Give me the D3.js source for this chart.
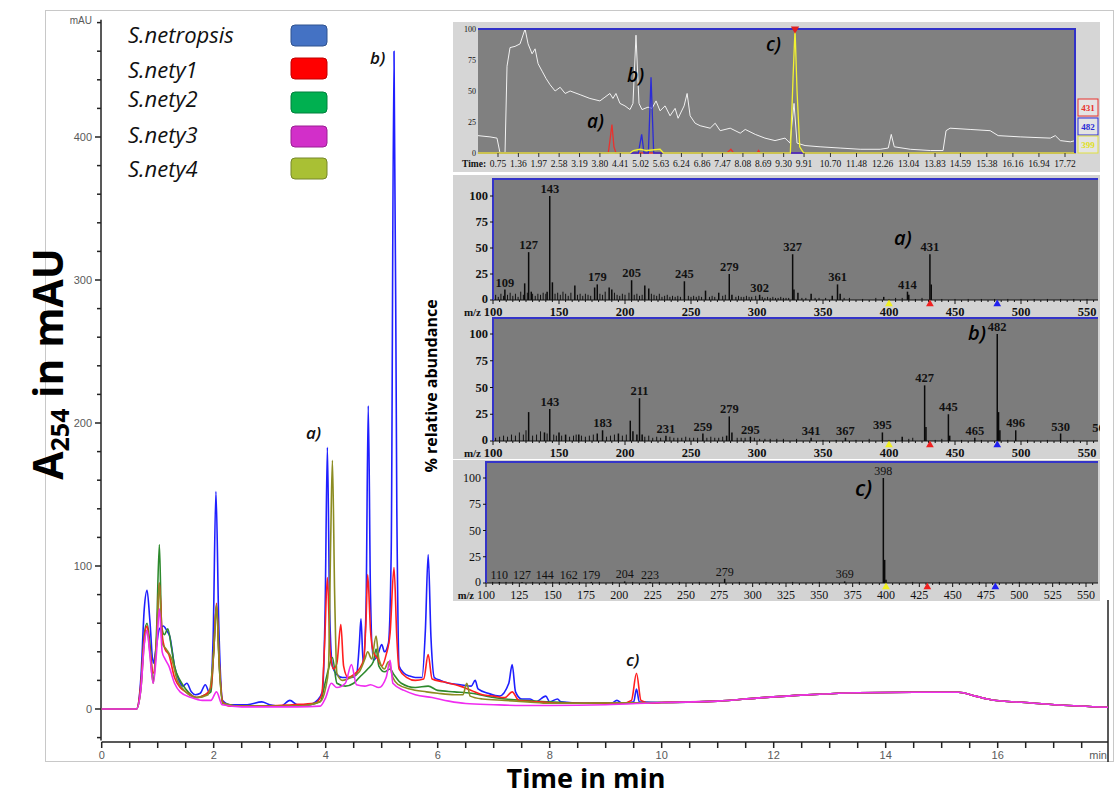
<!DOCTYPE html>
<html>
<head>
<meta charset="utf-8">
<script src="https://d3js.org/d3.v7.min.js"></script>
<style>
  body { margin: 0; background: #fff; }
  svg { display: block; }
</style>
</head>
<body>
<div id="container"></div>
<script>
// ---------------- DATA ----------------
let seriesNames = ["S.netropsis", "S.nety1", "S.nety2", "S.nety3", "S.nety4"];
let legendColors = ["#4472c4", "#ff0000", "#00b050", "#d22fc9", "#a9c034"];
let legendStrokes = ["#2f528f", "#c00000", "#00803c", "#9a1f93", "#76872a"];
let lineColors = ["#1f1fff", "#ff1f1f", "#2d8a2d", "#f02cf0", "#8c8c22"];

// common slow baseline drift after ~10 min (time, mAU)
let tailPts = [[10, 4.5], [11, 5.5], [11.7, 7.6], [12.4, 9.5], [12.9, 10.5], [13.5, 11.4], [14.5, 11.7],
  [15.3, 11.7], [15.6, 9], [15.9, 6.3], [16.5, 4.5], [17.1, 2.8], [17.97, 1.2]];

let netropsis = [[0, 0], [0.62, 0], [0.7, 22], [0.76, 70], [0.81, 83], [0.86, 62], [0.92, 32], [0.97, 42], [1.03, 56],
  [1.1, 58], [1.16, 55], [1.22, 50], [1.3, 30], [1.38, 20], [1.45, 16], [1.52, 18], [1.6, 12], [1.67, 10], [1.76, 11],
  [1.85, 17], [1.93, 11], [1.99, 50], [2.04, 152], [2.09, 60], [2.16, 6], [2.3, 3], [2.6, 3], [2.86, 5], [3.0, 3],
  [3.2, 2], [3.36, 6], [3.5, 3], [3.7, 3], [3.85, 6], [3.94, 12], [3.99, 70], [4.03, 183], [4.07, 70], [4.12, 30],
  [4.2, 24], [4.3, 22], [4.45, 22], [4.55, 24], [4.6, 45], [4.63, 63], [4.67, 32], [4.72, 70], [4.76, 212], [4.8, 80],
  [4.85, 34], [4.93, 38], [5.0, 45], [5.05, 40], [5.12, 46], [5.17, 110], [5.22, 460], [5.27, 140], [5.31, 30],
  [5.4, 25], [5.5, 23], [5.6, 22], [5.72, 22], [5.78, 55], [5.83, 108], [5.88, 50], [5.94, 22], [6.05, 20], [6.2, 18],
  [6.4, 17], [6.6, 16], [6.67, 20], [6.72, 14], [6.9, 11], [7.1, 9], [7.27, 18], [7.33, 31], [7.39, 12], [7.5, 7],
  [7.65, 7], [7.75, 5], [7.93, 9], [8.0, 5], [8.14, 7], [8.2, 5], [8.6, 4], [9.1, 4], [9.2, 6], [9.3, 4], [9.5, 5],
  [9.55, 14], [9.6, 5]].concat(tailPts);

let nety1 = [[0, 0], [0.62, 0], [0.7, 18], [0.76, 50], [0.81, 58], [0.86, 42], [0.92, 25], [0.98, 48], [1.03, 88],
  [1.08, 52], [1.13, 42], [1.2, 38], [1.3, 22], [1.4, 15], [1.5, 12], [1.7, 8], [1.85, 10], [1.95, 15], [2.0, 40],
  [2.05, 74], [2.1, 32], [2.16, 5], [2.3, 2], [2.8, 2], [3.4, 3], [3.8, 4], [3.93, 10], [3.98, 45], [4.03, 92],
  [4.08, 40], [4.14, 28], [4.2, 32], [4.27, 59], [4.32, 30], [4.4, 22], [4.5, 24], [4.6, 28], [4.68, 35], [4.72, 62],
  [4.75, 94], [4.8, 55], [4.85, 40], [4.93, 35], [5.0, 30], [5.08, 38], [5.15, 53], [5.22, 99], [5.27, 50], [5.31, 28],
  [5.45, 22], [5.6, 20], [5.75, 21], [5.83, 38], [5.9, 21], [6.1, 19], [6.4, 16], [6.6, 13], [6.8, 10], [7.0, 9],
  [7.2, 8], [7.33, 12], [7.45, 6], [7.8, 5], [8.2, 4], [8.8, 4], [9.3, 4], [9.46, 6], [9.55, 25], [9.63, 6],
  [9.8, 4]].concat(tailPts);

let nety2 = [[0, 0], [0.62, 0], [0.7, 15], [0.76, 52], [0.81, 60], [0.86, 46], [0.92, 20], [0.98, 55], [1.03, 115],
  [1.07, 58], [1.12, 52], [1.18, 56], [1.25, 42], [1.3, 30], [1.4, 20], [1.5, 14], [1.7, 8], [1.85, 10], [1.95, 12],
  [2.0, 40], [2.05, 72], [2.1, 30], [2.16, 4], [2.5, 2], [3.0, 2], [3.5, 2], [3.9, 5], [4.0, 20], [4.05, 28],
  [4.12, 36], [4.2, 18], [4.35, 16], [4.5, 18], [4.6, 22], [4.75, 28], [4.85, 33], [4.9, 42], [4.95, 30], [5.05, 26],
  [5.15, 28], [5.22, 24], [5.35, 18], [5.6, 15], [5.83, 16], [6.0, 13], [6.3, 12], [6.6, 11], [7.0, 8], [7.5, 6],
  [8.0, 5], [8.6, 4]].concat(tailPts);

let nety3 = [[0, 0], [0.62, 0], [0.7, 14], [0.76, 45], [0.81, 55], [0.86, 38], [0.92, 18], [0.98, 40], [1.03, 70],
  [1.08, 40], [1.13, 35], [1.2, 30], [1.3, 18], [1.4, 12], [1.6, 8], [1.8, 6], [1.95, 6], [2.05, 12], [2.15, 3],
  [2.5, 1.5], [3.5, 1.5], [3.9, 2], [4.0, 8], [4.1, 18], [4.2, 15], [4.35, 18], [4.46, 31], [4.55, 17], [4.7, 16],
  [4.8, 17], [4.95, 15], [5.08, 22], [5.15, 34], [5.2, 18], [5.4, 13], [5.6, 10], [5.9, 8], [6.2, 5.5], [6.5, 3.8],
  [7.0, 3], [7.5, 2.5], [8, 2.5], [9, 3]].concat(tailPts);

let nety4 = [[0, 0], [0.62, 0], [0.7, 14], [0.76, 46], [0.81, 55], [0.86, 40], [0.92, 18], [0.98, 48], [1.03, 88],
  [1.08, 46], [1.15, 42], [1.25, 35], [1.35, 20], [1.5, 12], [1.7, 8], [1.9, 10], [2.0, 40], [2.05, 73], [2.1, 30],
  [2.16, 4], [2.5, 2], [3.0, 2], [3.5, 2], [3.9, 5], [4.0, 15], [4.05, 28], [4.09, 120], [4.12, 174], [4.16, 80],
  [4.2, 25], [4.3, 20], [4.45, 22], [4.6, 26], [4.7, 35], [4.75, 40], [4.82, 35], [4.9, 51], [4.95, 35], [5.05, 28],
  [5.12, 33], [5.2, 22], [5.3, 17], [5.5, 14], [5.8, 12], [6.0, 11], [6.3, 10], [6.45, 10], [6.52, 18], [6.58, 9],
  [6.8, 7], [7.2, 6], [7.6, 5], [8.0, 4], [8.6, 4]].concat(tailPts);

let allSeries = [netropsis, nety1, nety2, nety3, nety4];
let drawOrder = [0, 2, 1, 4, 3];

let xTicksMain = [0, 2, 4, 6, 8, 10, 12, 14, 16];
let yTicksMain = [0, 100, 200, 300, 400];

// inset: LC-MS ion chromatograms (time, % relative)
let ticTrace = [[0.15, 14], [0.51, 13], [0.72, 12], [0.81, 0], [0.96, 0], [1.02, 70], [1.11, 85], [1.26, 86],
  [1.41, 88], [1.56, 100], [1.65, 88], [1.77, 80], [1.86, 84], [1.95, 72], [2.07, 66], [2.19, 60], [2.31, 55],
  [2.46, 50], [2.61, 53], [2.76, 48], [2.91, 50], [3.21, 47], [3.5, 44], [3.8, 42], [3.95, 45], [4.1, 48], [4.19, 44],
  [4.28, 48], [4.4, 40], [4.55, 38], [4.7, 35], [4.79, 40], [4.88, 95], [4.97, 40], [5.06, 35], [5.24, 37], [5.36, 36],
  [5.48, 42], [5.6, 34], [5.75, 38], [5.9, 30], [6.05, 36], [6.14, 28], [6.32, 38], [6.41, 48], [6.5, 30], [6.65, 24],
  [6.8, 22], [7.1, 20], [7.25, 24], [7.4, 18], [7.7, 20], [8.0, 16], [8.15, 19], [8.45, 15], [8.74, 12], [9.04, 10],
  [9.34, 12], [9.49, 8], [9.61, 40], [9.7, 8], [9.94, 6], [10.39, 5], [10.99, 4], [11.59, 3], [12.19, 3], [12.43, 4],
  [12.52, 15], [12.61, 5], [13.09, 3], [13.69, 2], [14.07, 2], [14.16, 18], [14.28, 20], [14.88, 19], [15.48, 18],
  [15.72, 14], [16.38, 13], [17.28, 12], [17.43, 14], [17.58, 10], [17.88, 9], [18.03, 10]];
let ion431 = [[0.15, 0], [4.05, 0], [4.1, 10], [4.16, 23], [4.22, 5], [4.28, 0], [7.6, 0], [7.72, 3], [7.8, 0],
  [8.5, 0], [8.55, 2], [8.6, 0], [18.03, 0]];
let ion482 = [[0.15, 0], [4.95, 0], [5.05, 15], [5.12, 0], [5.25, 0], [5.33, 61], [5.41, 0], [18.03, 0]];
let ion399 = [[0.15, 0], [4.7, 0], [4.8, 2], [5.0, 3], [5.2, 2], [5.6, 3], [5.7, 0], [9.5, 0], [9.58, 60],
  [9.64, 100], [9.7, 50], [9.78, 5], [9.9, 0], [18.03, 0]];
let timeLabels = ["0.75", "1.36", "1.97", "2.58", "3.19", "3.80", "4.41", "5.02", "5.63", "6.24", "6.86", "7.47",
  "8.08", "8.69", "9.30", "9.91", "10.70", "11.48", "12.26", "13.04", "13.83", "14.59", "15.38", "16.16", "16.94", "17.72"];
let ionLabels = ["431", "482", "399"];
let ionColors = ["#e8322e", "#2b2bd6", "#f2f230"];

// mass spectrum a) (m/z, %)
let specA = [[109, 10], [124, 16], [127, 46], [129, 8], [141, 8], [143, 100], [145, 17], [162, 14], [177, 12],
  [179, 15], [188, 12], [190, 10], [205, 19], [215, 14], [218, 11], [245, 18], [261, 9], [271, 7], [279, 25], [281, 5],
  [302, 5], [327, 44], [328, 10], [331, 7], [341, 6], [357, 4], [361, 15], [363, 6], [396, 3], [414, 8], [415, 5],
  [431, 44], [432, 15]];
let noiseA = [[102, 5], [104, 3], [106, 6], [108, 4], [111, 5], [113, 7], [115, 4], [117, 6], [119, 3], [121, 8],
  [123, 5], [126, 7], [130, 6], [132, 4], [134, 6], [136, 5], [138, 7], [140, 6], [147, 6], [149, 7], [151, 5],
  [153, 8], [155, 6], [157, 4], [159, 7], [164, 5], [166, 6], [168, 4], [170, 6], [172, 5], [174, 4], [181, 6],
  [183, 5], [185, 8], [192, 7], [194, 5], [196, 4], [198, 6], [200, 5], [203, 7], [207, 5], [209, 6], [211, 4],
  [213, 5], [220, 6], [222, 5], [224, 4], [226, 6], [228, 3], [230, 4], [232, 5], [234, 3], [236, 4], [238, 3],
  [240, 4], [242, 3], [248, 4], [250, 3], [252, 4], [254, 3], [256, 4], [258, 3], [264, 3], [266, 4], [268, 3],
  [274, 4], [276, 5], [284, 3], [286, 4], [288, 3], [290, 3], [292, 4], [294, 3], [296, 3], [299, 4], [304, 3],
  [306, 2], [308, 3], [310, 2], [312, 3], [314, 2], [316, 2], [318, 3], [320, 2], [322, 2], [324, 2], [334, 2],
  [337, 2], [344, 2], [347, 2], [352, 2], [366, 2], [370, 2], [380, 1], [390, 2], [400, 1], [405, 2], [410, 2],
  [420, 1], [425, 2], [440, 1], [450, 1], [460, 1], [470, 1], [480, 1], [490, 1], [500, 1], [510, 1], [520, 1],
  [530, 1], [540, 1], [550, 1]];
let labelsA = [109, 127, 143, 179, 205, 245, 279, 302, 327, 361, 414, 431];

// mass spectrum b)
let specB = [[127, 27], [139, 8], [143, 30], [150, 8], [155, 6], [165, 6], [179, 7], [183, 10], [195, 7], [204, 19],
  [206, 9], [209, 6], [211, 40], [213, 6], [231, 5], [259, 7], [277, 5], [279, 23], [281, 8], [295, 4], [341, 3],
  [367, 3], [395, 8], [410, 4], [427, 52], [428, 13], [445, 25], [446, 5], [465, 3], [482, 100], [483, 27], [484, 10],
  [496, 10], [530, 7], [561, 6]];
let noiseB = [[102, 3], [105, 4], [108, 5], [111, 4], [114, 6], [117, 5], [120, 8], [123, 6], [125, 10], [130, 5],
  [133, 6], [136, 9], [141, 7], [146, 6], [148, 5], [152, 5], [158, 4], [161, 5], [163, 6], [167, 5], [170, 4],
  [173, 5], [176, 6], [186, 4], [189, 5], [192, 6], [198, 5], [201, 6], [215, 4], [218, 5], [221, 3], [224, 4],
  [227, 3], [234, 4], [237, 3], [240, 3], [243, 3], [246, 4], [249, 3], [252, 3], [255, 3], [262, 3], [265, 4],
  [268, 3], [271, 3], [274, 4], [285, 3], [288, 3], [291, 3], [298, 3], [302, 2], [306, 2], [310, 2], [315, 2],
  [320, 2], [330, 2], [350, 1], [360, 1], [375, 1], [385, 2], [400, 1], [405, 1], [415, 2], [418, 3], [435, 1],
  [440, 2], [455, 1], [470, 1], [490, 1], [505, 1], [520, 1], [540, 1]];
let labelsB = [143, 183, 211, 231, 259, 279, 295, 341, 367, 395, 427, 445, 465, 482, 496, 530, 561];

// mass spectrum c)
let specC = [[110, 1], [127, 1], [144, 1], [162, 1], [179, 1], [204, 1.5], [223, 1], [279, 4], [369, 1.5],
  [398, 100], [399, 22], [400, 3]];
let noiseC = [[105, 1], [115, 1], [120, 1], [135, 1], [150, 1], [155, 1], [170, 1], [185, 1], [195, 1], [210, 1],
  [230, 1], [245, 1], [260, 1], [290, 1], [310, 1], [330, 1], [350, 1], [380, 1], [420, 1], [440, 1], [470, 1],
  [500, 1], [530, 1]];
let labelsC = [110, 127, 144, 162, 179, 204, 223, 279, 369, 398];

let markerMz = [400, 431, 482];
let markerColors = ["#f0f020", "#f02020", "#2020f0"];

// ---------------- SVG ----------------
let w = 1114;
let h = 796;

let viz = d3.select("#container").append("svg")
    .attr("width", w)
    .attr("height", h)
    .style("background-color", "white");

// outer frame of the figure
viz.append("rect")
  .attr("x", 45.5).attr("y", 10.5)
  .attr("width", 1068).attr("height", 751)
  .attr("fill", "none").attr("stroke", "#c8c8c8");

// SCALES
let xScale = d3.scaleLinear().domain([0, 17.97]).range([101.7, 1108]);
let yScale = d3.scaleLinear().domain([0, 400]).range([709, 137]);

// axes
let axisColor = "#222";
let labelColor = "#5a5a5a";

let xAxisG = viz.append("g").attr("transform", "translate(0,742)");
xAxisG.append("line").attr("x1", xScale(0)).attr("x2", xScale(17.97)).attr("stroke", axisColor).attr("stroke-width", 1.5);
xAxisG.selectAll(".xminor").data(d3.range(0, 18, 0.5)).enter()
  .append("line")
    .attr("x1", d => xScale(d)).attr("x2", d => xScale(d))
    .attr("y1", 0).attr("y2", 6)
    .attr("stroke", axisColor).attr("stroke-width", 1.5);
xAxisG.selectAll(".xlab").data(xTicksMain).enter()
  .append("text")
    .attr("x", d => xScale(d)).attr("y", 17)
    .attr("text-anchor", "middle")
    .attr("font-family", "Liberation Sans, Arial, sans-serif")
    .attr("font-size", 11).attr("fill", labelColor)
    .text(d => d);
xAxisG.append("text")
  .attr("x", 1107).attr("y", 17).attr("text-anchor", "end")
  .attr("font-family", "Liberation Sans, Arial, sans-serif")
  .attr("font-size", 11).attr("fill", labelColor)
  .text("min");
// right edge line
viz.append("line").attr("x1", 1108).attr("x2", 1108).attr("y1", 600).attr("y2", 762)
  .attr("stroke", axisColor).attr("stroke-width", 1.5);

let yAxisG = viz.append("g").attr("transform", "translate(101,0)");
yAxisG.append("line").attr("y1", yScale(-22)).attr("y2", yScale(482)).attr("stroke", axisColor).attr("stroke-width", 1.5);
yAxisG.selectAll(".yminor").data(d3.range(-20, 481, 20)).enter()
  .append("line")
    .attr("y1", d => yScale(d)).attr("y2", d => yScale(d))
    .attr("x1", 0).attr("x2", d => (d % 100 == 0 ? -6 : -4))
    .attr("stroke", axisColor).attr("stroke-width", 1.5);
yAxisG.selectAll(".ylab").data(yTicksMain).enter()
  .append("text")
    .attr("x", -9).attr("y", d => yScale(d) + 4)
    .attr("text-anchor", "end")
    .attr("font-family", "Liberation Sans, Arial, sans-serif")
    .attr("font-size", 11).attr("fill", labelColor)
    .text(d => d);
yAxisG.append("text")
  .attr("x", -9).attr("y", 24).attr("text-anchor", "end")
  .attr("font-family", "Liberation Sans, Arial, sans-serif")
  .attr("font-size", 10).attr("fill", labelColor)
  .text("mAU");

// TRACES
let lineMaker = d3.line()
    .x(d => xScale(d[0]))
    .y(d => yScale(d[1]))
    .curve(d3.curveMonotoneX);

viz.selectAll(".trace").data(drawOrder).enter()
  .append("path")
    .attr("class", "trace")
    .attr("d", i => lineMaker(allSeries[i]))
    .attr("fill", "none")
    .attr("stroke", i => lineColors[i])
    .attr("stroke-width", 1.6)
    .attr("stroke-linejoin", "round");

// peak labels on main chromatogram
let peakLab = viz.append("g")
  .attr("font-family", "Open Sans, sans-serif").attr("font-style", "italic")
  .attr("font-weight", 600).attr("font-size", 17).attr("fill", "#111");
peakLab.append("text").attr("x", 306).attr("y", 439).text("a)");
peakLab.append("text").attr("x", 370).attr("y", 64).text("b)");
peakLab.append("text").attr("x", 626).attr("y", 666).text("c)");

// axis titles
let yTitle = viz.append("text")
  .attr("transform", "translate(63,364) rotate(-90)")
  .attr("text-anchor", "middle")
  .attr("font-family", "Open Sans, sans-serif").attr("font-weight", 700)
  .attr("font-size", 41).attr("fill", "#000");
yTitle.append("tspan").text("A");
yTitle.append("tspan").attr("font-size", 25).attr("dy", 6).text("254");
yTitle.append("tspan").attr("dy", -6).text(" in mAU");

viz.append("text")
  .attr("x", 586).attr("y", 788).attr("text-anchor", "middle")
  .attr("font-family", "Open Sans, sans-serif").attr("font-weight", 700)
  .attr("font-size", 27).attr("fill", "#000")
  .text("Time in min");

viz.append("text")
  .attr("transform", "translate(437,386) rotate(-90)")
  .attr("text-anchor", "middle")
  .attr("font-family", "Open Sans, sans-serif").attr("font-weight", 700)
  .attr("font-size", 16).attr("fill", "#000")
  .text("% relative abundance");

// LEGEND
let legendY = [43, 78, 107, 143, 177];
let swatchY = [25, 58, 92, 126, 158];
let legend = viz.append("g");
legend.selectAll(".legtext").data(seriesNames).enter()
  .append("text")
    .attr("x", 128).attr("y", (d, i) => legendY[i])
    .attr("font-family", "Open Sans, sans-serif").attr("font-style", "italic")
    .attr("font-size", 22).attr("fill", "#111")
    .text(d => d);
legend.selectAll(".legbox").data(seriesNames).enter()
  .append("rect")
    .attr("x", 291).attr("y", (d, i) => swatchY[i])
    .attr("width", 36).attr("height", 21).attr("rx", 4)
    .attr("fill", (d, i) => legendColors[i])
    .attr("stroke", (d, i) => legendStrokes[i]).attr("stroke-width", 1);

// ---------------- INSET: ion chromatograms ----------------
let inset = viz.append("g");
inset.append("rect").attr("x", 453).attr("y", 22).attr("width", 647).attr("height", 150).attr("fill", "#d6d6d6");
inset.append("rect").attr("x", 478).attr("y", 29).attr("width", 597).attr("height", 124).attr("fill", "#808080");

let tx = d3.scaleLinear().domain([0.75, 17.72]).range([498, 1065]);
let ty = d3.scaleLinear().domain([0, 100]).range([153, 29]);
let ticLine = d3.line().x(d => tx(d[0])).y(d => ty(d[1]));

inset.append("path").attr("d", ticLine(ticTrace)).attr("fill", "none").attr("stroke", "#f2f2f2").attr("stroke-width", 1);
[ion431, ion482, ion399].forEach(function(trace, i){
  inset.append("path").attr("d", ticLine(trace)).attr("fill", "none")
    .attr("stroke", ionColors[i]).attr("stroke-width", 1.3);
});
inset.append("path")
  .attr("d", "M" + (478) + ",29H1075V153")
  .attr("fill", "none").attr("stroke", "#3232c8").attr("stroke-width", 2);
inset.append("path")
  .attr("d", d3.symbol(d3.symbolTriangle, 30)())
  .attr("transform", "translate(" + tx(9.64) + ",29) rotate(180)")
  .attr("fill", "#e02020");

inset.selectAll(".tyl").data([0, 25, 50, 75, 100]).enter()
  .append("text")
    .attr("x", 476).attr("y", d => ty(d) + 3)
    .attr("text-anchor", "end")
    .attr("font-family", "Liberation Serif, serif").attr("font-size", 8).attr("fill", "#111")
    .text(d => d);
inset.selectAll(".ttick").data(timeLabels).enter()
  .append("line")
    .attr("x1", d => tx(+d)).attr("x2", d => tx(+d))
    .attr("y1", 153).attr("y2", 157)
    .attr("stroke", "#333");
inset.selectAll(".tlab").data(timeLabels).enter()
  .append("text")
    .attr("x", d => tx(+d)).attr("y", 167)
    .attr("text-anchor", "middle")
    .attr("font-family", "Liberation Serif, serif").attr("font-size", 9.5).attr("fill", "#111")
    .text(d => d);
inset.append("text").attr("x", 462).attr("y", 167)
  .attr("font-family", "Liberation Serif, serif").attr("font-weight", 700)
  .attr("font-size", 9.5).attr("fill", "#111").text("Time:");

let ionBoxY = [99, 118, 136];
inset.selectAll(".ionbox").data(ionLabels).enter()
  .append("rect")
    .attr("x", 1078).attr("y", (d, i) => ionBoxY[i])
    .attr("width", 20).attr("height", 17)
    .attr("fill", "#e4e4e4")
    .attr("stroke", (d, i) => ionColors[i] == "#f2f230" ? "#e0e040" : ionColors[i]);
inset.selectAll(".iontext").data(ionLabels).enter()
  .append("text")
    .attr("x", 1088).attr("y", (d, i) => ionBoxY[i] + 12)
    .attr("text-anchor", "middle")
    .attr("font-family", "Liberation Serif, serif").attr("font-weight", 700)
    .attr("font-size", 9).attr("fill", (d, i) => ionColors[i] == "#f2f230" ? "#e0e020" : ionColors[i])
    .text(d => d);

let insetLab = inset.append("g")
  .attr("font-family", "Open Sans, sans-serif").attr("font-style", "italic")
  .attr("font-weight", 600).attr("font-size", 19).attr("fill", "#000");
insetLab.append("text").attr("x", 587).attr("y", 128).text("a)");
insetLab.append("text").attr("x", 627).attr("y", 82).text("b)");
insetLab.append("text").attr("x", 766).attr("y", 51).text("c)");

// ---------------- INSET: mass spectra ----------------
function drawSpectrum(cfg){
  let g = viz.append("g");
  let clipId = "clip" + cfg.name;
  g.append("clipPath").attr("id", clipId)
    .append("rect").attr("x", 453).attr("y", cfg.bgTop).attr("width", 647).attr("height", cfg.bgBottom - cfg.bgTop);
  let cg = g.append("g").attr("clip-path", "url(#" + clipId + ")");

  cg.append("rect").attr("x", 453).attr("y", cfg.bgTop)
    .attr("width", 647).attr("height", cfg.bgBottom - cfg.bgTop).attr("fill", "#d3d3d3");

  let x = d3.scaleLinear().domain([100, 550]).range(cfg.xRange);
  let y = d3.scaleLinear().domain([0, 100]).range([cfg.base, cfg.y100]);
  let left = cfg.xRange[0];

  cg.append("rect").attr("x", left).attr("y", cfg.top)
    .attr("width", 1098 - left).attr("height", cfg.base - cfg.top).attr("fill", "#7c7c7c");

  // minor ticks along baseline
  cg.selectAll(".mt").data(d3.range(100, 560, 5)).enter()
    .append("line")
      .attr("x1", d => x(d)).attr("x2", d => x(d))
      .attr("y1", cfg.base).attr("y2", d => cfg.base + (d % cfg.labelStep == 0 ? 4 : 2))
      .attr("stroke", "#111");

  // noise + peaks
  cg.selectAll(".noise").data(cfg.noise).enter()
    .append("line")
      .attr("x1", d => x(d[0])).attr("x2", d => x(d[0]))
      .attr("y1", cfg.base).attr("y2", d => y(d[1]))
      .attr("stroke", "#111").attr("stroke-width", 1);
  cg.selectAll(".peak").data(cfg.peaks).enter()
    .append("line")
      .attr("x1", d => x(d[0])).attr("x2", d => x(d[0]))
      .attr("y1", cfg.base).attr("y2", d => y(d[1]))
      .attr("stroke", "#0a0a0a").attr("stroke-width", 1.5);

  cg.append("line").attr("x1", left).attr("x2", 1098).attr("y1", cfg.base).attr("y2", cfg.base)
    .attr("stroke", "#111").attr("stroke-width", 1.2);

  // borders
  cg.append("path").attr("d", "M" + left + "," + cfg.base + "V" + cfg.top + "H1098")
    .attr("fill", "none").attr("stroke", "#3434c8").attr("stroke-width", 2);

  // y labels
  cg.selectAll(".yl").data([0, 25, 50, 75, 100]).enter()
    .append("text")
      .attr("x", left - 5).attr("y", d => y(d) + (d == 0 ? 2.5 : 4))
      .attr("text-anchor", "end")
      .attr("font-family", "Liberation Serif, serif").attr("font-weight", cfg.weight)
      .attr("font-size", cfg.fs).attr("fill", "#111")
      .text(d => d);
  cg.selectAll(".yt").data([0, 25, 50, 75, 100]).enter()
    .append("line")
      .attr("x1", left - 3).attr("x2", left).attr("y1", d => y(d)).attr("y2", d => y(d))
      .attr("stroke", "#111");

  // x labels
  cg.selectAll(".xl").data(d3.range(100, 551, cfg.labelStep)).enter()
    .append("text")
      .attr("x", d => x(d)).attr("y", cfg.base + 16)
      .attr("text-anchor", "middle")
      .attr("font-family", "Liberation Serif, serif").attr("font-weight", cfg.weight)
      .attr("font-size", cfg.fs).attr("fill", "#111")
      .text(d => d);
  cg.append("text").attr("x", x(100) - 12).attr("y", cfg.base + 16).attr("text-anchor", "end")
    .attr("font-family", "Liberation Serif, serif").attr("font-weight", 700)
    .attr("font-size", cfg.fs - 1.5).attr("fill", "#111").text("m/z");

  // markers
  cg.selectAll(".mk").data(markerMz).enter()
    .append("path")
      .attr("d", d3.symbol(d3.symbolTriangle, 26)())
      .attr("transform", d => "translate(" + x(d) + "," + (cfg.base + 4) + ")")
      .attr("fill", (d, i) => markerColors[i]);

  // peak labels
  let all = cfg.peaks.concat(cfg.noise);
  cg.selectAll(".pl").data(cfg.labels).enter()
    .append("text")
      .attr("x", d => x(d)).attr("y", function(d){
        let p = all.find(function(q){ return q[0] == d; });
        return y(p ? p[1] : 0) - 3;
      })
      .attr("text-anchor", "middle")
      .attr("font-family", "Liberation Serif, serif").attr("font-weight", cfg.weight)
      .attr("font-size", cfg.fs).attr("fill", "#111")
      .text(d => d);

  cg.append("text").attr("x", cfg.tag[0]).attr("y", cfg.tag[1])
    .attr("font-family", "Open Sans, sans-serif").attr("font-style", "italic")
    .attr("font-weight", 600).attr("font-size", cfg.tag[2]).attr("fill", "#000")
    .text(cfg.name + ")");
}

drawSpectrum({name: "a", bgTop: 175, bgBottom: 317, top: 179, base: 300, y100: 196,
  xRange: [493, 1087], peaks: specA, noise: noiseA, labels: labelsA, labelStep: 50,
  weight: 700, fs: 12.5, tag: [894, 245, 20]});
drawSpectrum({name: "b", bgTop: 317, bgBottom: 459, top: 318, base: 441, y100: 334,
  xRange: [493, 1087], peaks: specB, noise: noiseB, labels: labelsB, labelStep: 50,
  weight: 700, fs: 12.5, tag: [968, 340, 20]});
drawSpectrum({name: "c", bgTop: 460, bgBottom: 601, top: 462, base: 583, y100: 478,
  xRange: [486, 1086], peaks: specC, noise: noiseC, labels: labelsC, labelStep: 25,
  weight: 400, fs: 12, tag: [855, 496, 22]});
</script>
</body>
</html>
